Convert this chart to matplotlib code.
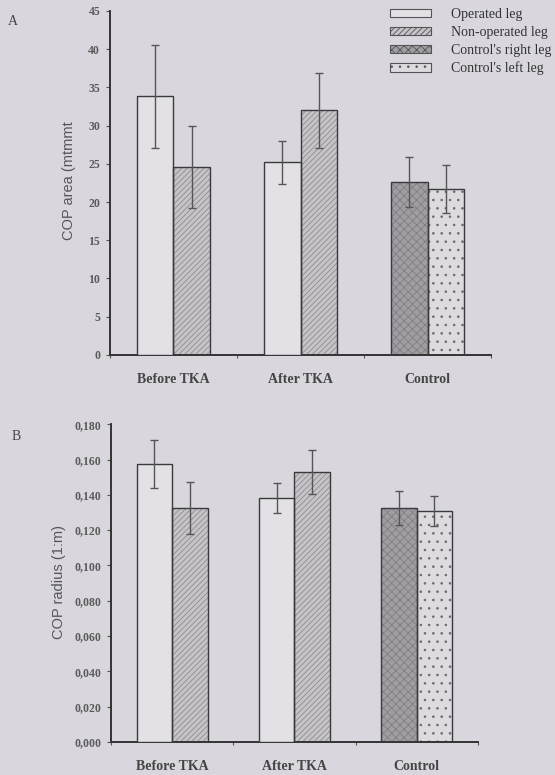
import matplotlib
matplotlib.use("Agg")
import matplotlib.pyplot as plt
import numpy as np
from matplotlib.patches import Patch

groups = ["Before TKA", "After TKA", "Control"]
series = ["Operated leg", "Non-operated leg", "Control's right leg", "Control's left leg"]

# Panel A: COP area
area_first = [33.8, 25.2, 22.6]     # operated / operated / control right
area_first_err = [6.7, 2.8, 3.3]
area_second = [24.6, 32.0, 21.7]    # non-operated / non-operated / control left
area_second_err = [5.4, 4.9, 3.1]

# Panel B: COP radius
rad_first = [0.1575, 0.138, 0.1326]
rad_first_err = [0.0135, 0.0085, 0.0095]
rad_second = [0.1326, 0.153, 0.131]
rad_second_err = [0.0145, 0.0125, 0.0085]

a_ticks = [0, 5, 10, 15, 20, 25, 30, 35, 40, 45]
b_ticks = [0.0, 0.02, 0.04, 0.06, 0.08, 0.10, 0.12, 0.14, 0.16, 0.18]

BG = "#d9d7dd"
EDGE = "#3a3a3a"
styles = {
    "op": dict(fc="#e3e1e6", hatch=None, hc=None),
    "nonop": dict(fc="#c6c4c9", hatch="//////", hc="#8e8c91"),
    "cright": dict(fc="#a09ea3", hatch="xxxx", hc="#807e83"),
    "cleft": dict(fc="#dddbe0", hatch="..", hc="#6a686d"),
}

plt.rcParams["hatch.linewidth"] = 0.6
fig = plt.figure(figsize=(5.55, 7.75), dpi=100, facecolor=BG)

serif = "Liberation Serif"


def draw_bar(ax, x, h, w, st):
    s = styles[st]
    if s["hatch"]:
        ax.bar(x, h, w, align="edge", color=s["fc"], hatch=s["hatch"],
               edgecolor=s["hc"], linewidth=0, zorder=2)
        ax.bar(x, h, w, align="edge", fill=False, edgecolor=EDGE, linewidth=1.0, zorder=3)
    else:
        ax.bar(x, h, w, align="edge", color=s["fc"], edgecolor=EDGE, linewidth=1.0, zorder=3)


def panel(ax, first, first_err, second, second_err, ticks, ylim, fmt, ylabel, label_xy):
    ax.set_facecolor(BG)
    w = 0.29
    centers = np.arange(len(groups)) + 0.5
    for i, c in enumerate(centers):
        st1 = "op" if i < 2 else "cright"
        st2 = "nonop" if i < 2 else "cleft"
        draw_bar(ax, c - w, first[i], w, st1)
        draw_bar(ax, c, second[i], w, st2)
        ax.errorbar(c - w / 2, first[i], yerr=first_err[i], fmt="none", ecolor="#555555",
                    elinewidth=1.0, capsize=3, zorder=4)
        ax.errorbar(c + w / 2, second[i], yerr=second_err[i], fmt="none", ecolor="#555555",
                    elinewidth=1.0, capsize=3, zorder=4)
    ax.set_xlim(0, 3)
    ax.set_ylim(*ylim)
    ax.set_yticks(ticks)
    ax.set_yticklabels([fmt(t) for t in ticks], fontfamily=serif, fontsize=8.5,
                       fontweight="bold", color="#5a5a5a")
    ax.set_xticks([0, 1, 2, 3])
    ax.set_xticklabels([])
    ax.set_xticks(centers, minor=True)
    ax.set_xticklabels(groups, minor=True, fontfamily=serif, fontsize=10,
                       fontweight="bold", color="#444444")
    ax.tick_params(axis="x", which="minor", length=0, pad=13)
    ax.tick_params(axis="x", which="major", length=2, width=0.8, color="#555555")
    ax.tick_params(axis="y", length=3, width=0.8, color="#555555", pad=4)
    for sp in ["top", "right"]:
        ax.spines[sp].set_visible(False)
    for sp in ["left", "bottom"]:
        ax.spines[sp].set_color("#333333")
        ax.spines[sp].set_linewidth(1.4)
    ax.set_ylabel(ylabel, fontfamily="Liberation Sans", fontsize=10.5, color="#555555")
    ax.yaxis.set_label_coords(*label_xy)


axA = fig.add_axes([0.198, 0.542, 0.687, 0.444])
panel(axA, area_first, area_first_err, area_second, area_second_err, a_ticks, (0, 45),
      lambda t: f"{t:d}", "COP area (mtmmt", (-0.088, 0.506))

axB = fig.add_axes([0.2, 0.0426, 0.661, 0.410])
panel(axB, rad_first, rad_first_err, rad_second, rad_second_err, b_ticks, (0, 0.18),
      lambda t: f"{t:.3f}".replace(".", ","), "COP radius (1:m)", (-0.122, 0.503))

fig.text(0.015, 0.972, "A", fontfamily=serif, fontsize=10, color="#444444", va="center")
fig.text(0.02, 0.437, "B", fontfamily=serif, fontsize=10, color="#444444", va="center")

handles = []
for key, lab in zip(["op", "nonop", "cright", "cleft"], series):
    s = styles[key]
    handles.append(Patch(facecolor=s["fc"], hatch=s["hatch"], edgecolor="#555555",
                         linewidth=0.8, label=lab))
leg = fig.legend(handles=handles, loc="upper left", bbox_to_anchor=(0.692, 0.997),
                 frameon=False, prop=dict(family=serif, size=10),
                 handlelength=3.0, handleheight=0.55, labelspacing=0.35,
                 handletextpad=1.45, borderaxespad=0)
for t in leg.get_texts():
    t.set_color("#333333")

fig.savefig("out.png", dpi=100, facecolor=BG)
